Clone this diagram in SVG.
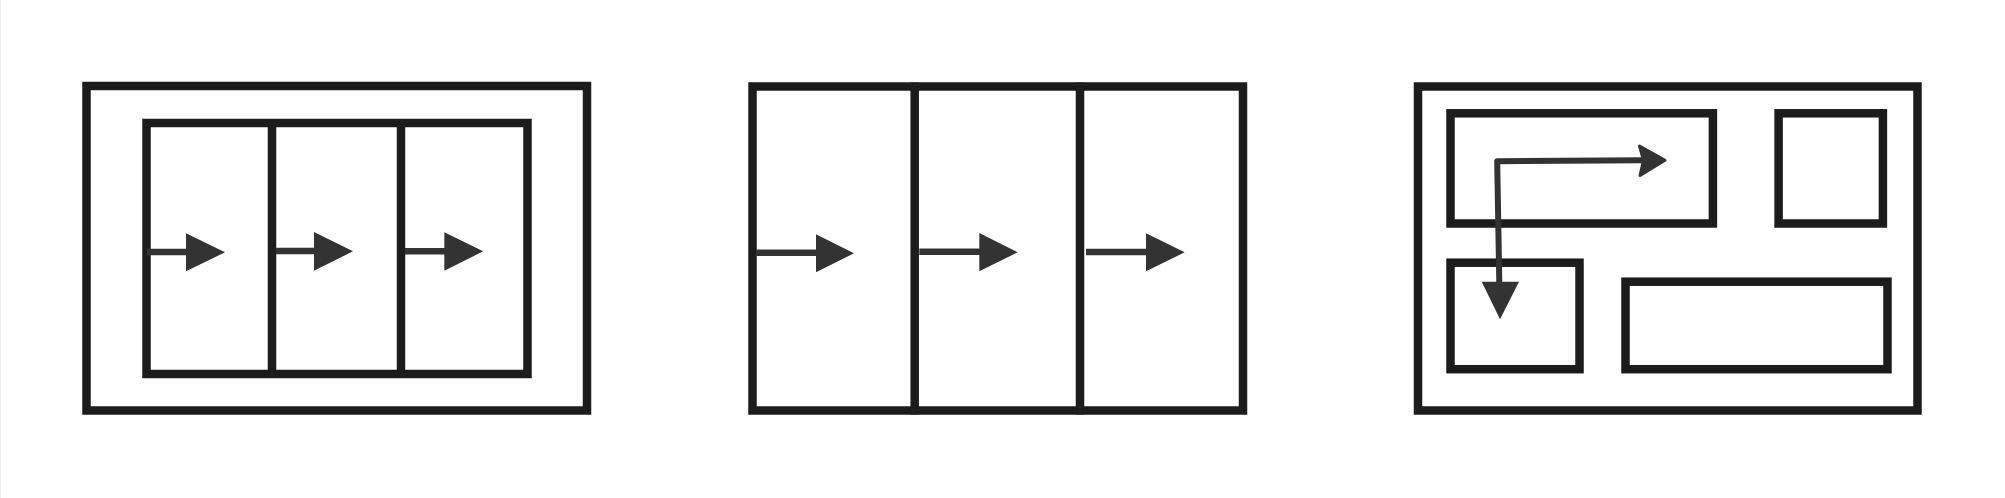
<svg xmlns="http://www.w3.org/2000/svg" width="2005" height="498" viewBox="0 0 2005 498">
<style>
.box{fill:none;stroke:#1c1c1c;stroke-width:8.5}
.div{stroke:#1c1c1c;stroke-width:8.5;fill:none}
.ln{stroke:#333333;stroke-width:6.5;fill:none}
.ln2{stroke:#333333;stroke-width:6;fill:none;stroke-linejoin:round}
.hd{fill:#333333;stroke:none}
.hd2{fill:#333333;stroke:#333333;stroke-width:3;stroke-linejoin:round}
</style>
<rect x="0" y="0" width="2005" height="498" fill="#ffffff"/>
<line x1="0.5" y1="0" x2="0.5" y2="498" stroke="#f0f0f0" stroke-width="1"/>
<g id="panel1">
  <rect id="p1-outer" class="box" x="86.5" y="86" width="500.5" height="324.5"/>
  <rect id="p1-inner" class="box" x="146.5" y="123" width="381" height="251"/>
  <line id="p1-div1" class="div" x1="272" y1="119" x2="272" y2="378"/>
  <line id="p1-div2" class="div" x1="401" y1="119" x2="401" y2="378"/>
</g>
<g id="panel2">
  <rect id="p2-outer" class="box" x="752.5" y="86.5" width="490.5" height="324"/>
  <line id="p2-div1" class="div" x1="914.7" y1="82.5" x2="914.7" y2="414.5"/>
  <line id="p2-div2" class="div" x1="1080" y1="82.5" x2="1080" y2="414.5"/>
</g>
<g id="panel3">
  <rect id="p3-outer" class="box" x="1418" y="86.5" width="499.5" height="324"/>
  <rect id="p3-a" class="box" x="1450.5" y="113.3" width="262.4" height="110.2"/>
  <rect id="p3-b" class="box" x="1778.6" y="113.3" width="104.3" height="110.2"/>
  <rect id="p3-c" class="box" x="1450.5" y="262.7" width="129" height="106.5"/>
  <rect id="p3-d" class="box" x="1625.5" y="281.7" width="262" height="87.5"/>
</g>
<g id="connectors">
  <line class="ln" x1="147" y1="252" x2="187" y2="252"/>
  <polygon class="hd" points="186,233.3 225,252.3 186,271.3"/>
  <line class="ln" x1="276" y1="251" x2="315" y2="251"/>
  <polygon class="hd" points="314,232 353,251.3 314,270.7"/>
  <line class="ln" x1="405" y1="251.3" x2="445" y2="251.3"/>
  <polygon class="hd" points="444.3,232.3 483.2,251.3 444.3,270.7"/>
  <line class="ln" x1="756" y1="252.7" x2="817" y2="252.7"/>
  <polygon class="hd" points="816,234.3 854,253.3 816,272.3"/>
  <line class="ln" x1="919.3" y1="251.7" x2="980" y2="251.7"/>
  <polygon class="hd" points="979.3,233 1017.7,252.3 979.3,271.3"/>
  <line class="ln" x1="1086" y1="252" x2="1147" y2="252"/>
  <polygon class="hd" points="1146,233.3 1184.7,252.3 1146,271.3"/>
  <path class="ln2" d="M1499.3,283 L1497.2,161.3 L1642,160.3"/>
  <polygon class="hd" points="1481.7,281.7 1519,281.7 1500,319.3"/>
  <path class="hd2" d="M1639.5,146 L1665,160.3 L1640,175.5 L1643.5,160.3 Z"/>
</g>
</svg>
